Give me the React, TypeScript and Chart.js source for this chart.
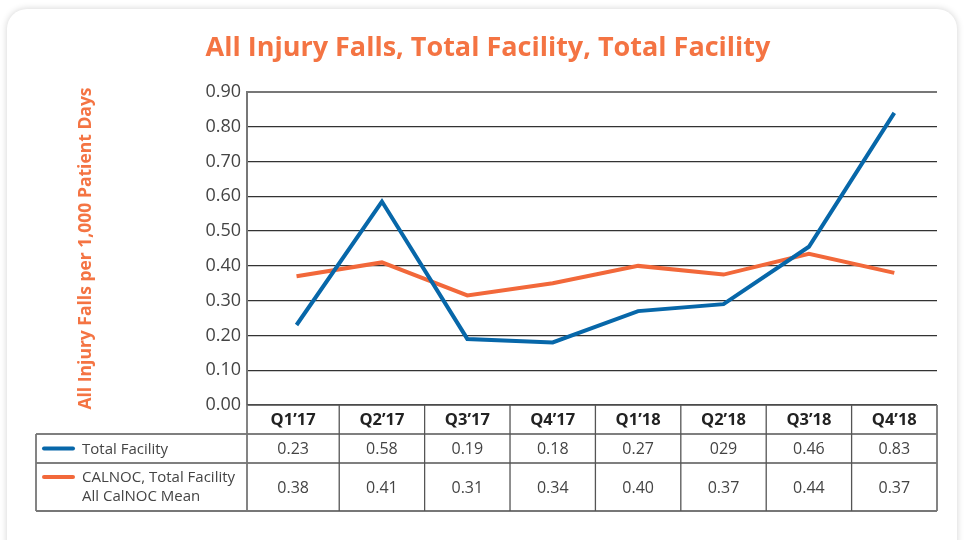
import React, { useEffect, useRef } from "react";
import { Chart, registerables } from "chart.js";

Chart.register(...registerables);

const categories = ["Q1\u201917", "Q2\u201917", "Q3\u201917", "Q4\u201917", "Q1\u201918", "Q2\u201918", "Q3\u201918", "Q4\u201918"];
const totalFacility = [0.23, 0.585, 0.19, 0.18, 0.27, 0.29, 0.455, 0.84];
const calnocMean = [0.37, 0.41, 0.315, 0.35, 0.4, 0.375, 0.435, 0.38];
const totalFacilityTable = ["0.23", "0.58", "0.19", "0.18", "0.27", "029", "0.46", "0.83"];
const calnocMeanTable = ["0.38", "0.41", "0.31", "0.34", "0.40", "0.37", "0.44", "0.37"];
const yTicks = [0, 0.1, 0.2, 0.3, 0.4, 0.5, 0.6, 0.7, 0.8, 0.9];

const BLUE = "#0767a9";
const ORANGE = "#f2683a";
const TITLE_ORANGE = "#f47443";
const FONT = "'Open Sans', 'Noto Sans', sans-serif";

const tablePlugin = {
  id: "dataTable",
  afterDraw(chart: any) {
    const { ctx, chartArea } = chart;
    const xs = chart.scales.x;
    const left = chartArea.left;
    const right = chartArea.right;
    const n = categories.length;
    const bounds: number[] = [left];
    for (let i = 0; i < n - 1; i++) bounds.push(xs.getPixelForValue(i + 0.5));
    bounds.push(right);
    const yTop = chartArea.bottom;
    const yH = yTop + 29;
    const yR1 = yH + 29;
    const yR2 = yR1 + 48;
    const labelLeft = 36;
    ctx.save();
    const hline = (y: number, x0: number, x1: number) => {
      ctx.beginPath();
      ctx.moveTo(x0, y);
      ctx.lineTo(x1, y);
      ctx.stroke();
    };
    const vline = (x: number, y0: number, y1: number) => {
      ctx.beginPath();
      ctx.moveTo(x, y0);
      ctx.lineTo(x, y1);
      ctx.stroke();
    };
    ctx.strokeStyle = "#555";
    ctx.lineWidth = 1.3;
    hline(yTop, left, right);
    hline(yH, labelLeft, right);
    hline(yR1, labelLeft, right);
    ctx.strokeStyle = "#777";
    ctx.lineWidth = 1.8;
    hline(yR2, labelLeft, right);
    vline(labelLeft, yH, yR2);
    vline(right, yTop, yR2);
    vline(left, yTop, yR2);
    ctx.strokeStyle = "#555";
    ctx.lineWidth = 1.3;
    for (let i = 1; i < n; i++) vline(bounds[i], yTop, yR2);
    const mid = (i: number) => (bounds[i] + bounds[i + 1]) / 2;
    ctx.textAlign = "center";
    ctx.textBaseline = "middle";
    ctx.fillStyle = "#222";
    ctx.font = `bold 16.5px ${FONT}`;
    categories.forEach((c, i) => ctx.fillText(c, mid(i), (yTop + yH) / 2 + 1));
    ctx.fillStyle = "#444";
    ctx.font = `16px ${FONT}`;
    totalFacilityTable.forEach((v, i) => ctx.fillText(v, mid(i), (yH + yR1) / 2 + 1));
    calnocMeanTable.forEach((v, i) => ctx.fillText(v, mid(i), (yR1 + yR2) / 2 + 1));
    ctx.lineCap = "round";
    ctx.lineWidth = 4;
    ctx.strokeStyle = BLUE;
    hline((yH + yR1) / 2, 44, 73);
    ctx.strokeStyle = ORANGE;
    hline(yR1 + 14, 44, 73);
    ctx.textAlign = "left";
    ctx.font = `15px ${FONT}`;
    ctx.fillStyle = "#444";
    ctx.fillText("Total Facility", 82, (yH + yR1) / 2 + 1);
    ctx.fillText("CALNOC, Total Facility", 82, yR1 + 15);
    ctx.fillText("All CalNOC Mean", 82, yR1 + 34);
    ctx.restore();
  },
};

export default function App() {
  const ref = useRef<HTMLCanvasElement>(null);
  useEffect(() => {
    document.body.style.margin = "0";
    const chart = new Chart(ref.current as HTMLCanvasElement, {
      type: "line",
      data: {
        datasets: [
          {
            label: "Total Facility",
            data: totalFacility.map((y, i) => ({ x: i, y })),
            borderColor: BLUE,
            backgroundColor: BLUE,
            borderWidth: 4,
            pointRadius: 0,
            tension: 0,
          },
          {
            label: "CALNOC, Total Facility All CalNOC Mean",
            data: calnocMean.map((y, i) => ({ x: i, y })),
            borderColor: ORANGE,
            backgroundColor: ORANGE,
            borderWidth: 4,
            pointRadius: 0,
            tension: 0,
          },
        ],
      },
      options: {
        animation: false,
        responsive: false,
        layout: { padding: { left: 39, right: 27, top: 0, bottom: 135 } },
        plugins: {
          legend: { display: false },
          tooltip: { enabled: false },
          title: {
            display: true,
            text: "All Injury Falls, Total Facility, Total Facility",
            color: TITLE_ORANGE,
            font: { family: FONT, size: 27, weight: "bold" },
            padding: { top: 32, bottom: 27.6 },
          },
        },
        scales: {
          x: {
            type: "linear",
            display: false,
            min: -0.58,
            max: 7.5,
          },
          y: {
            min: 0,
            max: 0.9,
            afterBuildTicks: (scale: any) => {
              scale.ticks = yTicks.map((v) => ({ value: v }));
            },
            afterFit: (scale: any) => {
              scale.width = 208;
            },
            ticks: {
              callback: (v: any) => Number(v).toFixed(2),
              color: "#444",
              font: { family: FONT, size: 18 },
              padding: 6,
            },
            grid: {
              drawTicks: false,
              color: (c: any) => (c.tick && c.tick.value === 0.9 ? "#777" : "#333"),
              lineWidth: (c: any) => (c.tick && c.tick.value === 0.9 ? 2 : 1.3),
            },
            border: { display: true, color: "#777", width: 2 },
            title: {
              display: true,
              text: "All Injury Falls per 1,000 Patient Days",
              color: TITLE_ORANGE,
              font: { family: FONT, size: 17.5, weight: "bold" },
              padding: { top: 37, bottom: 0 },
            },
          },
        },
      },
      plugins: [tablePlugin],
    });
    return () => chart.destroy();
  }, []);
  return (
    <div style={{ position: "fixed", left: 0, top: 0, width: 964, height: 540, background: "#fff", overflow: "hidden" }}>
      <div
        style={{
          position: "absolute",
          left: 7,
          top: 9,
          width: 950,
          height: 560,
          borderRadius: 20,
          background: "#fff",
          boxShadow: "0 0 7px rgba(0,0,0,0.18)",
        }}
      />
      <canvas ref={ref} width={964} height={540} style={{ position: "absolute", left: 0, top: 0 }} />
    </div>
  );
}
